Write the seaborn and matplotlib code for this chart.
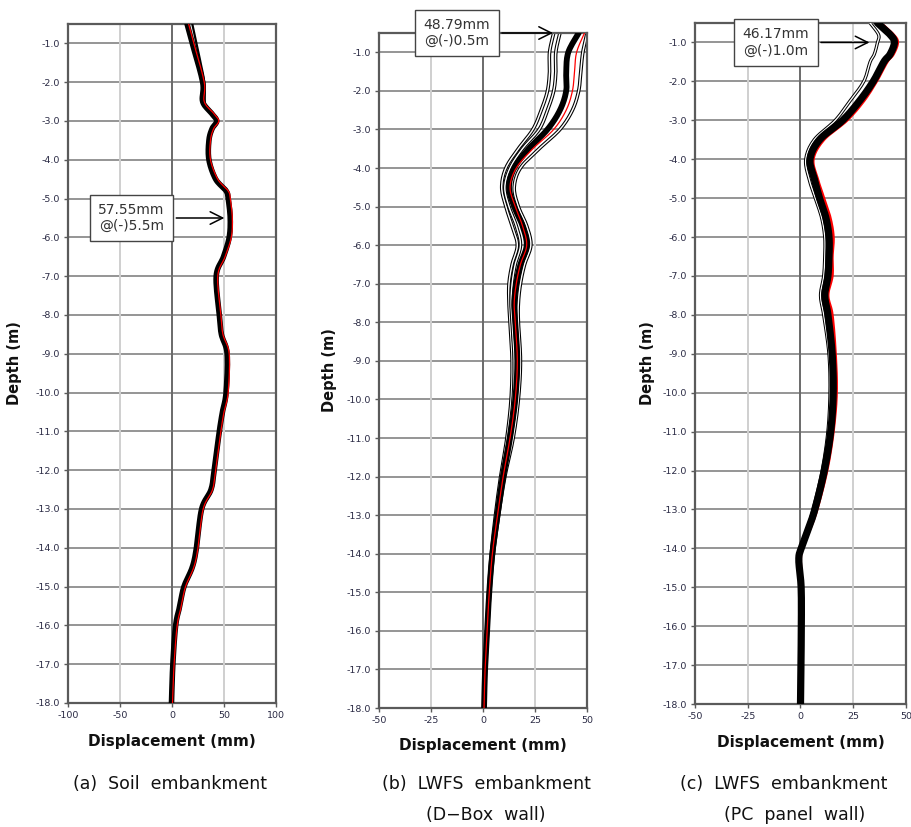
"""Lateral displacement profiles for three embankment types."""

import matplotlib
matplotlib.use("Agg")
import matplotlib.pyplot as plt
import numpy as np
import pandas as pd
import seaborn as sns

sns.set_theme(style="white")
plt.rcParams["font.family"] = ["DejaVu Sans"]

# (a) soil embankment
depth_a = [0.5, 1, 2, 2.5, 2.8, 3, 3.2, 3.5, 4, 4.5, 4.8, 5, 5.5, 6, 6.5, 7,
           8, 8.5, 9, 10, 10.5, 11, 12, 12.5, 13, 14, 14.5, 15, 15.5, 16, 17, 18]
red_a = [16, 21, 31, 31, 40, 45, 40, 37, 37, 44, 54, 56, 58, 57, 51, 44,
         47, 49, 55, 54, 50, 47, 42, 39, 30, 25, 21, 13, 9, 5, 2, 0.5]
black_a = [14.5, 19.5, 29.5, 29.5, 38, 43, 38.5, 35.5, 35.5, 42, 52, 54, 56, 55, 49.5, 42.5,
           45.5, 47.5, 53, 52, 48.5, 45.5, 40.5, 37.5, 28.5, 23.5, 19.5, 11.5, 7.5, 3.5, 0.8, -0.5]
depth_a_top = [0.5, 1, 1.5, 2, 2.5]
early_a = [19.5, 23.5, 27.5, 31, 31.5]

# (b) LWFS embankment, D-Box wall
depth_b = [0.5, 1, 1.5, 2, 2.5, 3, 3.5, 4, 4.5, 5, 5.5, 6, 6.5, 7, 7.5, 8,
           9, 10, 11, 12, 13, 14, 15, 16, 17, 18]
red_b = [48.8, 45, 44, 43, 40, 34, 24, 16, 13, 15.5, 19, 21, 18, 16, 15, 15.5,
         16.5, 15.5, 13, 9.7, 7, 4.5, 3, 2, 1, 0.5]
black_b = [46, 41, 40, 40, 37, 31, 22, 15, 12.5, 15, 19, 21, 18, 16, 15, 15.5,
           16.5, 15.5, 13, 9.7, 7, 4.5, 3, 2, 1, 0.5]
outer_b = [50, 48, 47, 46, 43, 37, 27, 18, 15, 17, 21, 23, 20, 18, 17, 17,
           18, 17, 14.5, 10.5, 7.5, 5, 3.3, 2.2, 1.2, 0.6]
light1_b = [34, 32, 32, 31, 28, 24, 17, 11, 9, 11, 14, 16.5, 14, 12.5, 12.5, 13,
            14, 13.5, 11.5, 8.5, 6, 4, 2.7, 1.8, 0.9, 0.4]
light2_b = [37, 35, 35, 34, 31, 27, 19, 13, 10.5, 12.5, 16, 18, 15.5, 14, 13.5, 14,
            15, 14.5, 12.3, 9, 6.5, 4.2, 2.8, 1.9, 1, 0.5]

# (c) LWFS embankment, PC panel wall
depth_c = [0.5, 0.8, 1, 1.3, 1.5, 2, 2.5, 3, 3.5, 4, 4.5, 5, 5.5, 6, 6.5, 7, 7.5,
           8, 9, 10, 11, 12, 13, 13.5, 14, 14.3, 15, 16, 17, 18]
red_c = [38, 44, 46, 44, 41, 36, 30, 22, 11, 6, 8, 11, 14, 15.5, 15, 15, 13,
         15, 16.5, 17, 15.5, 12.5, 7.8, 4.5, 0.8, 0, 0.5, 0.5, 0.3, 0]
black_c = [36.5, 42.5, 44.5, 42.5, 39.5, 34.5, 28, 20, 9, 4.5, 6.5, 9, 12, 13.5, 13.5, 13, 11.5,
           13, 15, 15.5, 14.3, 11.3, 6.8, 3.7, 0.3, -0.8, 0.3, 0.4, 0.2, 0]
left_c = [33, 37, 36.5, 35, 33, 30, 23.5, 16.5, 6.5, 2.5, 4, 7, 10, 11.5, 11.5, 11, 9.5,
          11, 13.5, 14, 13, 10.3, 6, 3.2, 0, -0.9, 0.2, 0.3, 0.1, 0]

y_ticks = list(range(-1, -19, -1))
x_ticks_a = [-100, -50, 0, 50, 100]
x_ticks_bc = [-50, -25, 0, 25, 50]

fig = plt.figure(figsize=(9.12, 8.27), dpi=100)
W, H = 912, 827


def add_axes(l, r, t, b):
    return fig.add_axes([l / W, 1 - b / H, (r - l) / W, (b - t) / H])


def smooth(depth, disp, n=10):
    # Catmull-Rom pass so the profile looks like the spreadsheet's smoothed line
    p = np.column_stack([disp, -np.asarray(depth, float)])
    p = np.vstack([p[0], p, p[-1]])
    t = np.linspace(0, 1, n, endpoint=False)[:, None]
    segs = []
    for i in range(1, len(p) - 2):
        p0, p1, p2, p3 = p[i - 1], p[i], p[i + 1], p[i + 2]
        segs.append(0.5 * (2 * p1 + (-p0 + p2) * t
                           + (2 * p0 - 5 * p1 + 4 * p2 - p3) * t ** 2
                           + (-p0 + 3 * p1 - 3 * p2 + p3) * t ** 3))
    segs.append(p[-2][None])
    s = np.vstack(segs)
    return pd.DataFrame({"disp": s[:, 0], "depth": s[:, 1]})


def curve(ax, depth, disp, color, lw, z, outlined=False):
    df = smooth(depth, disp)
    if outlined:
        sns.lineplot(data=df, x="disp", y="depth", sort=False, estimator=None,
                     color="black", lw=lw, ax=ax, zorder=z)
        sns.lineplot(data=df, x="disp", y="depth", sort=False, estimator=None,
                     color="white", lw=lw * 0.4, ax=ax, zorder=z + 0.1)
    else:
        sns.lineplot(data=df, x="disp", y="depth", sort=False, estimator=None,
                     color=color, lw=lw, ax=ax, zorder=z)


def style(ax, xticks):
    ax.set_xlim(xticks[0], xticks[-1])
    ax.set_ylim(-18, -0.5)
    ax.set_xticks(xticks)
    ax.set_xticklabels([str(v) for v in xticks])
    ax.set_yticks(y_ticks)
    ax.set_yticklabels([f"{v:.1f}" for v in y_ticks])
    for y in y_ticks:
        ax.axhline(y, color="#8c8c8c", lw=1.3, zorder=0.5)
    for x in xticks[1:-1]:
        ax.axvline(x, color="#6a6a6a" if x == 0 else "#cfcfcf", lw=1.4, zorder=0.6)
    for sp in ax.spines.values():
        sp.set_color("#5a5a5a")
        sp.set_linewidth(1.6)
    ax.tick_params(axis="both", labelsize=6.8, labelcolor="#2a2a44",
                   direction="out", length=3, width=1, color="#5a5a5a",
                   bottom=True, left=True, pad=3)
    ax.set_xlabel("Displacement (mm)", fontsize=11, fontweight="bold", color="#111")
    ax.set_ylabel("Depth (m)", fontsize=10.5, fontweight="bold", color="#111")
    ax.xaxis.set_label_coords(0.5, -0.045)


box = dict(boxstyle="square,pad=0.6", fc="white", ec="#444444", lw=1.0)
arrow = dict(arrowstyle="->,head_length=0.9,head_width=0.45", color="black", lw=1.1)

# (a)
ax_a = add_axes(68, 276, 24, 703)
style(ax_a, x_ticks_a)
ax_a.yaxis.set_label_coords(-0.22, 0.5)
curve(ax_a, depth_a_top, early_a, "black", 1.6, 3)
curve(ax_a, depth_a, black_a, "black", 4.0, 3)
curve(ax_a, depth_a, red_a, "red", 0.9, 4)
ax_a.annotate("57.55mm\n@(-)5.5m", xy=(53, -5.5), xytext=(-39, -5.5),
              ha="center", va="center", fontsize=10, color="#333333",
              bbox=box, arrowprops=arrow, zorder=6)

# (b)
ax_b = add_axes(379, 587, 33, 708)
style(ax_b, x_ticks_bc)
ax_b.yaxis.set_label_coords(-0.2, 0.5)
curve(ax_b, depth_b, light1_b, "black", 2.6, 2, outlined=True)
curve(ax_b, depth_b, light2_b, "black", 2.6, 2.2, outlined=True)
curve(ax_b, depth_b, outer_b, "black", 2.6, 2.4, outlined=True)
curve(ax_b, depth_b, black_b, "black", 4.2, 3)
curve(ax_b, depth_b, red_b, "red", 0.9, 4)
ax_b.annotate("48.79mm\n@(-)0.5m", xy=(35, -0.5), xytext=(-12.5, -0.5),
              ha="center", va="center", fontsize=10, color="#333333",
              bbox=box, arrowprops=arrow, zorder=6, annotation_clip=False)

# (c)
ax_c = add_axes(695, 906, 23, 704)
style(ax_c, x_ticks_bc)
ax_c.yaxis.set_label_coords(-0.19, 0.5)
curve(ax_c, depth_c, red_c, "red", 2.2, 2)
curve(ax_c, depth_c, left_c, "black", 2.4, 2.5, outlined=True)
curve(ax_c, depth_c, black_c, "black", 5.2, 3)
ax_c.annotate("46.17mm\n@(-)1.0m", xy=(34, -1.0), xytext=(-11.6, -1.0),
              ha="center", va="center", fontsize=10, color="#333333",
              bbox=box, arrowprops=arrow, zorder=6, annotation_clip=False)

cap = dict(fontsize=12.5, color="#111111", ha="center", va="center")
fig.text(170 / W, 1 - 784 / H, "(a)  Soil  embankment", **cap)
fig.text(486 / W, 1 - 784 / H, "(b)  LWFS  embankment", **cap)
fig.text(486 / W, 1 - 815 / H, "(D\u2212Box  wall)", **cap)
fig.text(680 / W, 1 - 784 / H, "(c)  LWFS  embankment", fontsize=12.5, color="#111111",
         ha="left", va="center")
fig.text(795 / W, 1 - 815 / H, "(PC  panel  wall)", **cap)

fig.savefig("out.png", dpi=100)
